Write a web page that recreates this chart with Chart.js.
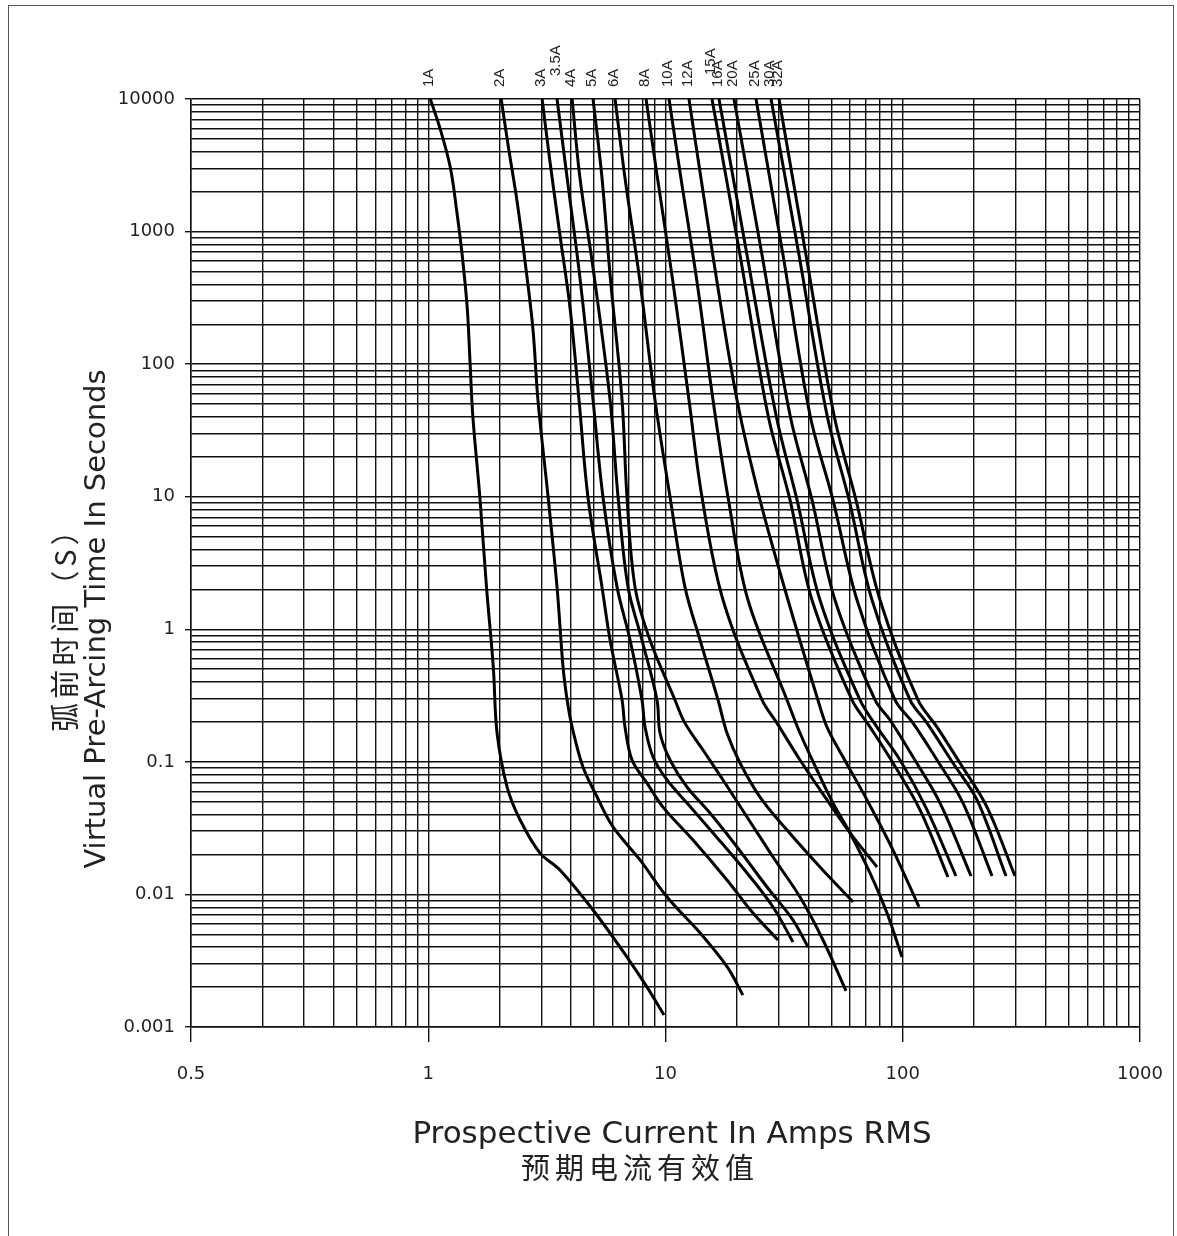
<!DOCTYPE html>
<html>
<head>
<meta charset="utf-8">
<script src="https://cdn.jsdelivr.net/npm/chart.js@4.4.0/dist/chart.umd.min.js"></script>
<style>
body { margin: 0; background: #fff; }
#wrap { position: relative; width: 1177px; height: 1236px; }
</style>
</head>
<body>
<div id="wrap"><canvas id="fuse" width="1177" height="1236"></canvas></div>
<script>
// fuse ratings, one curve each (current in A, pre-arcing time in s)
var ratings = ['1A', '2A', '3A', '3.5A', '4A', '5A', '6A', '8A', '10A', '12A', '15A', '16A', '20A', '25A', '30A', '32A'];

var amps_1A = [1.02, 1.12, 1.24, 1.32, 1.39, 1.46, 1.50, 1.54, 1.65, 1.76, 1.88, 1.95, 2.15, 2.44, 2.96, 3.59, 4.95, 6.88, 8.36, 9.86];
var secs_1A = [10000, 6040, 3020, 1405, 666, 265, 104, 41.3, 9.95, 2.08, 0.519, 0.165, 0.0646, 0.0364, 0.0205, 0.0153, 0.00763, 0.00337, 0.0020, 0.00123];

var amps_2A = [2.03, 2.17, 2.37, 2.56, 2.76, 2.90, 3.20, 3.49, 3.70, 3.85, 4.04, 4.49, 5.15, 6.01, 7.81, 10.15, 14.0, 18.2, 21.2];
var secs_2A = [10000, 4500, 1670, 590, 187, 53.6, 9.95, 2.08, 0.519, 0.293, 0.183, 0.0914, 0.0543, 0.0323, 0.0182, 0.00956, 0.00512, 0.00284, 0.00174];

var amps_3A = [3.02, 3.26, 3.59, 3.96, 4.32, 4.71, 5.40, 5.84, 6.56, 6.75, 7.23, 8.36, 9.76, 13.06, 18.16, 23.38, 29.8];
var secs_3A = [10000, 3350, 942, 265, 53.6, 9.95, 2.08, 0.83, 0.293, 0.183, 0.103, 0.0692, 0.0456, 0.0257, 0.01285, 0.00724, 0.00453];

var amps_3_5A = [3.49, 3.85, 4.36, 4.95, 5.45, 6.25, 7.09, 7.96, 8.20, 8.86, 10.15, 12.32, 15.86, 22.06, 28.39, 34.47];
var secs_3_5A = [10000, 2535, 446, 53.6, 9.95, 2.08, 0.83, 0.293, 0.183, 0.1088, 0.073, 0.0489, 0.0291, 0.0145, 0.00804, 0.00438];

var amps_4A = [4.04, 4.36, 4.95, 5.84, 6.31, 6.95, 7.96, 9.21, 9.48, 10.45, 12.32, 15.40, 20.02, 26.78, 34.47, 39.86];
var secs_4A = [10000, 2535, 531, 53.6, 9.95, 2.08, 0.83, 0.293, 0.165, 0.1033, 0.0646, 0.0411, 0.0228, 0.01138, 0.00641, 0.00401];

var amps_5A = [4.95, 5.40, 5.84, 6.56, 6.88, 7.44, 8.60, 10.96, 12.08, 14.39, 17.48, 22.06, 28.39, 36.89, 46.12, 57.66];
var secs_5A = [10000, 2535, 470, 53.6, 9.95, 2.08, 0.83, 0.293, 0.196, 0.1229, 0.073, 0.0384, 0.01915, 0.00956, 0.00453, 0.00187];

var amps_6A = [6.13, 6.75, 7.81, 9.03, 10.45, 12.08, 13.98, 16.65, 18.16, 20.61, 25.02, 32.52, 44.78, 61.7];
var secs_6A = [10000, 2535, 416, 53.6, 9.95, 2.08, 0.83, 0.293, 0.165, 0.098, 0.0543, 0.0306, 0.0161, 0.00877];

var amps_8A = [8.28, 9.21, 10.75, 12.56, 14.25, 17.48, 25.52, 29.51, 36.89, 47.94, 59.95, 77.9];
var secs_8A = [10000, 2671, 416, 53.6, 9.95, 1.663, 0.293, 0.196, 0.1033, 0.0516, 0.0291, 0.0161];

var amps_10A = [10.35, 11.51, 13.58, 15.86, 18.34, 22.27, 32.52, 36.89, 43.5, 50.8, 59.95, 72.8, 85.8, 99.3];
var secs_10A = [10000, 2814, 416, 53.6, 9.95, 1.663, 0.293, 0.165, 0.0868, 0.0489, 0.0291, 0.0145, 0.00724, 0.00337];

var amps_12A = [12.56, 13.98, 16.49, 20.02, 25.02, 32.83, 43.9, 47.94, 56.0, 70.7, 90.97, 117.1];
var secs_12A = [10000, 2814, 416, 53.6, 9.45, 1.663, 0.293, 0.183, 0.1088, 0.0516, 0.0216, 0.00804];

var amps_15A = [15.70, 20.61, 27.04, 33.48, 41.45, 61.1, 72.8, 90.97, 118.2, 155.1];
var secs_15A = [10000, 666, 41.3, 9.45, 1.663, 0.293, 0.183, 0.098, 0.0434, 0.01353];

var amps_16A = [16.81, 22.06, 29.23, 35.84, 44.78, 66.04, 77.9, 97.4, 126.6, 167.6];
var secs_16A = [10000, 666, 41.3, 9.45, 1.663, 0.293, 0.183, 0.1033, 0.0434, 0.01377];

var amps_20A = [19.44, 25.52, 33.48, 41.45, 51.8, 76.4, 88.4, 110.5, 143.6, 194.0];
var secs_20A = [10000, 666, 41.3, 9.45, 1.663, 0.293, 0.207, 0.1088, 0.0489, 0.01377];

var amps_25A = [24.07, 31.28, 40.65, 50.8, 64.15, 92.75, 110.5, 139.5, 179.5, 237.8];
var secs_25A = [10000, 666, 41.3, 9.45, 1.663, 0.293, 0.196, 0.1033, 0.0489, 0.01377];

var amps_30A = [27.85, 36.54, 47.94, 59.4, 74.2, 107.3, 126.6, 162.8, 205.6, 272.4];
var secs_30A = [10000, 666, 41.3, 9.45, 1.663, 0.293, 0.196, 0.098, 0.0516, 0.01377];

var amps_32A = [30.09, 39.1, 51.3, 63.5, 80.2, 115.9, 139.5, 174.3, 226.5, 297.2];
var secs_32A = [10000, 666, 41.3, 9.45, 1.663, 0.293, 0.183, 0.098, 0.0456, 0.01377];

// tick labels as printed on the sheet
var xTickValues = [0.1, 1, 10, 100, 1000];
var xTickText = ['0.5', '1', '10', '100', '1000'];
var yTickValues = [0.001, 0.01, 0.1, 1, 10, 100, 1000, 10000];
var yTickText = ['0.001', '0.01', '0.1', '1', '10', '100', '1000', '10000'];

var xTitle = 'Prospective Current In Amps RMS';
var xTitleCn = '预期电流有效值';
var yTitle = 'Virtual Pre-Arcing Time In Seconds';
var yTitleCn = '弧前时间（S）';

var ampsList = [amps_1A, amps_2A, amps_3A, amps_3_5A, amps_4A, amps_5A, amps_6A, amps_8A, amps_10A, amps_12A, amps_15A, amps_16A, amps_20A, amps_25A, amps_30A, amps_32A];
var secsList = [secs_1A, secs_2A, secs_3A, secs_3_5A, secs_4A, secs_5A, secs_6A, secs_8A, secs_10A, secs_12A, secs_15A, secs_16A, secs_20A, secs_25A, secs_30A, secs_32A];

var datasets = ratings.map(function(r, k) {
	return {
		label: r,
		data: ampsList[k].map(function(a, i) { return { x: a, y: secsList[k][i] }; }),
		borderColor: '#000',
		borderWidth: 3,
		borderCapStyle: 'butt',
		pointRadius: 0,
		fill: false,
		tension: 0.35
	};
});

function logGrid(lo, hi) {
	var t = [];
	for (var e = lo; e < hi; e++) {
		for (var m = 1; m < 10; m++) t.push({ value: m * Math.pow(10, e) });
	}
	t.push({ value: Math.pow(10, hi) });
	return t;
}

function labelFor(vals, texts, v) {
	for (var i = 0; i < vals.length; i++) {
		if (Math.abs(v / vals[i] - 1) < 1e-6) return texts[i];
	}
	return '';
}

// labels a little higher for the crowded ones
var liftLabel = { '3.5A': 11, '15A': 12 };

var curveLabels = {
	id: 'curveLabels',
	afterDatasetsDraw: function(chart) {
		var ctx = chart.ctx;
		ctx.save();
		ctx.fillStyle = '#222';
		ctx.font = '15px "Liberation Sans"';
		ctx.textAlign = 'left';
		ctx.textBaseline = 'middle';
		chart.data.datasets.forEach(function(ds, k) {
			var p = chart.getDatasetMeta(k).data[0];
			var lift = liftLabel[ds.label] || 0;
			ctx.save();
			ctx.translate(p.x - 1, chart.chartArea.top - 12 - lift);
			ctx.rotate(-Math.PI / 2);
			ctx.fillText(ds.label, 0, 0);
			ctx.restore();
		});
		ctx.restore();
	}
};

var axisTitles = {
	id: 'axisTitles',
	afterDraw: function(chart) {
		var ctx = chart.ctx, a = chart.chartArea;
		ctx.save();
		ctx.fillStyle = '#222';
		ctx.textAlign = 'center';
		ctx.textBaseline = 'middle';
		ctx.font = '31px "DejaVu Sans"';
		ctx.fillText(xTitle, a.left + 481, a.bottom + 108);
		ctx.font = '29px "Noto Sans CJK SC"';
		ctx.letterSpacing = '5px';
		ctx.fillText(xTitleCn, a.left + 449, a.bottom + 141);
		ctx.restore();

		ctx.save();
		ctx.fillStyle = '#222';
		ctx.textAlign = 'center';
		ctx.textBaseline = 'middle';
		ctx.translate(a.left - 94, a.top + 520);
		ctx.rotate(-Math.PI / 2);
		ctx.font = '29px "DejaVu Sans"';
		ctx.fillText(yTitle, 0, 0);
		ctx.restore();

		ctx.save();
		ctx.fillStyle = '#222';
		ctx.textAlign = 'center';
		ctx.textBaseline = 'middle';
		ctx.translate(a.left - 126, a.top + 523);
		ctx.rotate(-Math.PI / 2);
		ctx.font = '29px "Noto Sans CJK SC"';
		ctx.letterSpacing = '4px';
		ctx.fillText(yTitleCn, 0, 0);
		ctx.restore();

		// outer frame of the sheet
		ctx.save();
		ctx.strokeStyle = '#555';
		ctx.lineWidth = 1;
		ctx.strokeRect(8.5, 5.5, 1165, 1240);
		ctx.restore();
	}
};

window.onload = function() {
	var ctx = document.getElementById('fuse').getContext('2d');
	window.fuseChart = new Chart(ctx, {
		type: 'line',
		data: { datasets: datasets },
		plugins: [curveLabels, axisTitles],
		options: {
			responsive: false,
			animation: false,
			layout: { padding: { left: 0, right: 37, top: 99, bottom: 0 } },
			plugins: {
				legend: { display: false },
				tooltip: { enabled: false }
			},
			scales: {
				x: {
					type: 'logarithmic',
					min: 0.1,
					max: 1000,
					afterBuildTicks: function(s) { s.ticks = logGrid(-1, 3); },
					afterFit: function(s) {
						s.height = 209;
						s.paddingLeft = 0;
						s.paddingRight = 0;
					},
					ticks: {
						autoSkip: false,
						maxRotation: 0,
						padding: 22,
						color: '#222',
						font: { family: 'DejaVu Sans', size: 18 },
						callback: function(v) { return labelFor(xTickValues, xTickText, v); }
					},
					grid: {
						color: '#111',
						lineWidth: 1.4,
						tickLength: 15,
						tickWidth: 1.4,
						tickColor: function(c) { return c.tick && c.tick.label ? '#111' : 'rgba(0,0,0,0)'; }
					},
					border: { color: '#111', width: 1.5 }
				},
				y: {
					type: 'logarithmic',
					min: 0.001,
					max: 10000,
					afterBuildTicks: function(s) { s.ticks = logGrid(-3, 4); },
					afterFit: function(s) { s.width = 191; },
					ticks: {
						autoSkip: false,
						padding: 10,
						color: '#222',
						font: { family: 'DejaVu Sans', size: 18 },
						callback: function(v) { return labelFor(yTickValues, yTickText, v); }
					},
					grid: {
						color: '#111',
						lineWidth: 1.4,
						tickLength: 6,
						tickWidth: 1.4,
						tickColor: function(c) { return c.tick && c.tick.label ? '#111' : 'rgba(0,0,0,0)'; }
					},
					border: { color: '#111', width: 1.5 }
				}
			}
		}
	});
};
</script>
</body>
</html>
